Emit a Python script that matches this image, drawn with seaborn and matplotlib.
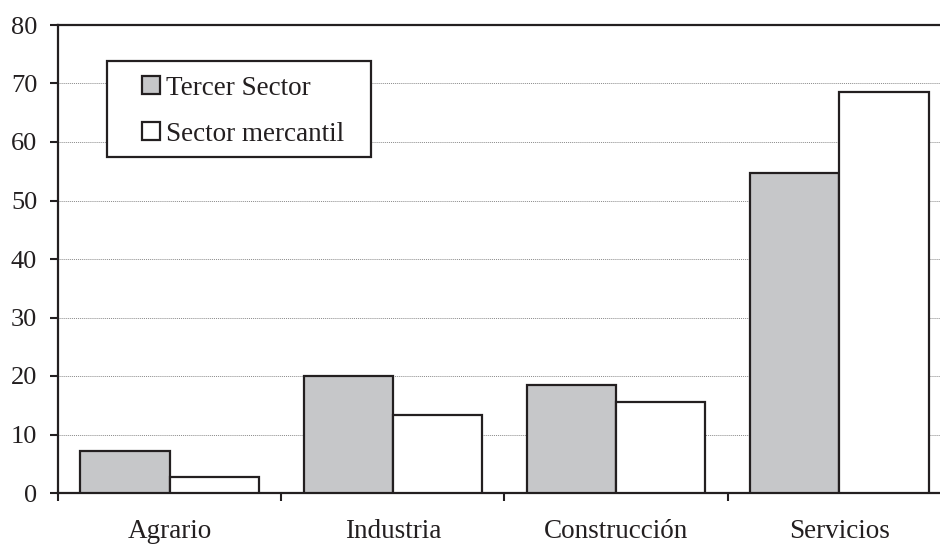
import pandas as pd
import seaborn as sns
import numpy as np
import matplotlib.pyplot as plt
from matplotlib.patches import Rectangle

sectores = ['Agrario', 'Industria', 'Construcción', 'Servicios']
series = ['Tercer Sector', 'Sector mercantil']
tercer = [7.1, 20.0, 18.4, 54.7]
mercantil = [2.7, 13.3, 15.5, 68.5]
yticks = [0, 10, 20, 30, 40, 50, 60, 70, 80]

df = pd.DataFrame({
    'Sector': sectores * 2,
    'Serie': [series[0]] * 4 + [series[1]] * 4,
    'Valor': tercer + mercantil,
})

sns.set_style('ticks')
plt.rcParams['font.family'] = ['Liberation Serif', 'DejaVu Serif']
ink = '#231f20'

fig = plt.figure(figsize=(9.4, 5.45), dpi=100)
ax = fig.add_axes([58 / 940, 52 / 545, 893 / 940, 468 / 545])

sns.barplot(data=df, x='Sector', y='Valor', hue='Serie', order=sectores,
            hue_order=series, palette=['#c6c7c9', 'white'], edgecolor=ink,
            linewidth=1.6, width=0.8, ax=ax, legend=False, zorder=3)

ax.set_xlim(-0.5, 3.5)
ax.set_ylim(0, 80)
ax.set_yticks(yticks)
ax.set_yticklabels([str(v) for v in yticks], fontsize=19, color=ink)
ax.set_xticks(range(4))
ax.set_xticklabels(sectores, fontsize=19.5, color=ink)
ax.set_xticks(np.arange(-0.5, 4, 1), minor=True)
ax.tick_params(axis='x', which='major', length=0, pad=19)
ax.tick_params(axis='x', which='minor', length=6, width=1.5, direction='out', color=ink)
ax.tick_params(axis='y', length=6, width=1.5, direction='out', pad=9, color=ink)
ax.set_xlabel('')
ax.set_ylabel('')

for s in ['left', 'bottom', 'top', 'right']:
    ax.spines[s].set_linewidth(1.6)
    ax.spines[s].set_color(ink)

ax.yaxis.grid(True, linestyle=(0, (1, 1)), color='#8a8a8a', linewidth=0.7)
ax.set_axisbelow(True)

# legend box
ax.add_patch(Rectangle((0.0549, 0.7179), 0.2956, 0.2051, transform=ax.transAxes,
                       facecolor='white', edgecolor=ink, linewidth=1.6, zorder=4))
handles = [Rectangle((0, 0), 1, 1, facecolor=c, edgecolor=ink, linewidth=1.6)
           for c in ['#c6c7c9', 'white']]
leg = ax.legend(handles, series, loc='upper left', bbox_to_anchor=(0.094, 0.892),
                frameon=False, borderpad=0, borderaxespad=0, fontsize=19.5,
                handlelength=0.67, handleheight=0.67, handletextpad=0.2,
                labelspacing=0.78)
leg.set_zorder(5)
for t in leg.get_texts():
    t.set_color(ink)

fig.savefig('out.png', dpi=100)
